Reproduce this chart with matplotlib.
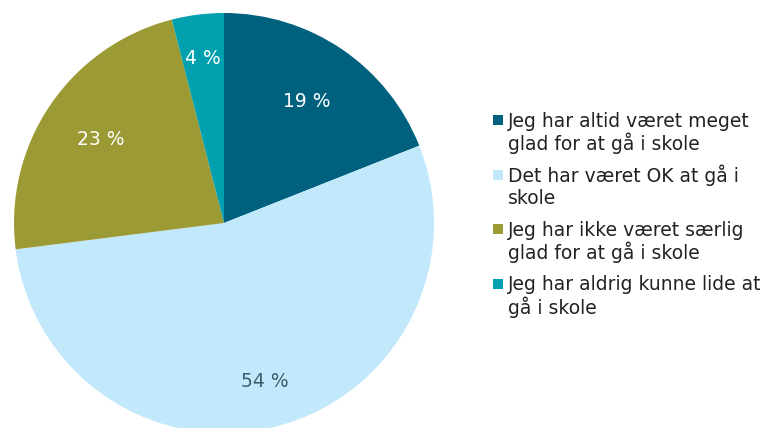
import matplotlib
matplotlib.use("Agg")
import matplotlib.pyplot as plt
from matplotlib.patches import Rectangle
import numpy as np

categories = [
    "Jeg har altid været meget\nglad for at gå i skole",
    "Det har været OK at gå i\nskole",
    "Jeg har ikke været særlig\nglad for at gå i skole",
    "Jeg har aldrig kunne lide at\ngå i skole",
]
values = [19, 54, 23, 4]
label_texts = ["19 %", "54 %", "23 %", "4 %"]
colors = ["#00617F", "#C1E8FB", "#9C9A35", "#00A0AE"]
label_colors = ["white", "#3F5F6E", "white", "white"]
label_dist = [0.70, 0.78, 0.71, 0.79]

plt.rcParams["font.family"] = ["DejaVu Sans"]
FS = 13.5

fig = plt.figure(figsize=(7.65, 4.28), dpi=100)
ax = fig.add_axes([14 / 765, (428 - 433) / 428, 420 / 765, 420 / 428])
wedges, _ = ax.pie(values, colors=colors, startangle=90, counterclock=False,
                   wedgeprops=dict(linewidth=0))
for w, txt, c, d in zip(wedges, label_texts, label_colors, label_dist):
    w.set_clip_on(False)
    mid = np.deg2rad((w.theta1 + w.theta2) / 2)
    ax.text(d * np.cos(mid), d * np.sin(mid), txt, color=c, fontsize=FS,
            ha="center", va="center")
ax.set_xlim(-1, 1)
ax.set_ylim(-1, 1)
ax.set_aspect("equal")

W, H = 765, 428
base_y = 127
step = 54.5
line_gap = 23
for i, (cat, c) in enumerate(zip(categories, colors)):
    y = base_y + i * step
    fig.add_artist(Rectangle((493 / W, 1 - (y - 2) / H), 10 / W, 10 / H,
                             transform=fig.transFigure, facecolor=c,
                             edgecolor="none"))
    for k, line in enumerate(cat.split("\n")):
        fig.text(508 / W, 1 - (y + k * line_gap) / H, line, fontsize=FS,
                 color="#222222", ha="left", va="baseline")

fig.savefig("out.png", dpi=100)
